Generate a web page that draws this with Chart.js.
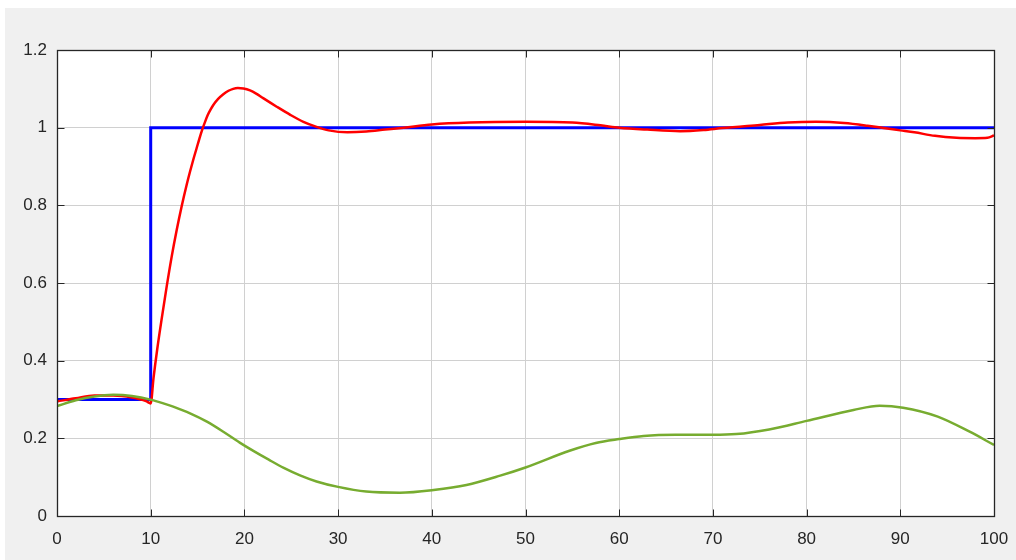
<!DOCTYPE html>
<html>
<head>
<meta charset="utf-8">
<script src="https://cdn.jsdelivr.net/npm/chart.js@4/dist/chart.umd.min.js"></script>
<style>
  html, body { margin: 0; padding: 0; background: #ffffff; }
  #wrap { position: absolute; left: 5px; top: 8px; width: 1011px; height: 552px; }
  canvas { display: block; }
</style>
</head>
<body>
<div id="wrap"><canvas id="c" width="1011" height="552"></canvas></div>
<script>
// Axis ticks
const xTicks = [0, 10, 20, 30, 40, 50, 60, 70, 80, 90, 100];
const yTicks = [0, 0.2, 0.4, 0.6, 0.8, 1, 1.2];
const yTickLabels = ['0', '0.2', '0.4', '0.6', '0.8', '1', '1.2'];

// Setpoint (step from 0.3 to 1 at t = 10)
const refT = [0, 10, 10, 100];
const refY = [0.3, 0.3, 1, 1];

// Process output
const outT = [0, 2, 4, 6, 8, 9.5, 10, 10.3, 10.7, 11.2, 11.7, 12.24, 12.78, 13.3, 13.84, 14.2,
  14.55, 14.9, 15.2, 15.5, 15.8, 16.1, 16.4, 16.7, 17.2, 17.75, 18.3, 18.8, 19.3, 19.9, 20.6,
  21.3, 22, 23.45, 24.9, 26.3, 27.7, 29, 31, 33, 35, 37,
  40, 44, 50, 55, 58, 60, 63, 66.5, 69, 71, 75, 78, 81, 84, 86.5, 88.2, 90, 91.5, 93.7, 96, 98, 99.3, 100];
const outY = [0.295, 0.303, 0.31, 0.31, 0.305, 0.296, 0.29, 0.355, 0.43, 0.512, 0.59, 0.668, 0.737, 0.797, 0.853, 0.887,
  0.918, 0.947, 0.972, 0.995, 1.015, 1.033, 1.047, 1.059, 1.074, 1.086, 1.095, 1.1, 1.102, 1.101, 1.096,
  1.087, 1.076, 1.054, 1.033, 1.015, 1.002, 0.993, 0.988, 0.99, 0.995, 1.0,
  1.008, 1.013, 1.015, 1.013, 1.006, 1.0, 0.995, 0.991, 0.994, 0.999, 1.007, 1.013, 1.015, 1.012, 1.005, 0.999, 0.993, 0.988, 0.979, 0.974, 0.973, 0.974, 0.98];

// Control signal
const ctlT = [0, 2, 4, 6, 8, 10.1, 11.35, 12.4, 14.2, 16, 17.75, 19.5, 21, 22.6, 24.2, 26, 27.7, 30, 33, 36.6,
  40.2, 43.7, 47.3, 50, 54.7, 57.5, 60, 62.6, 66, 70, 72.5, 76, 80, 85, 87.8, 90.3, 94, 97.4, 100];
const ctlY = [0.283, 0.298, 0.308, 0.312, 0.309, 0.299, 0.29, 0.2815, 0.2645, 0.243, 0.217, 0.189, 0.167, 0.145, 0.124, 0.104, 0.089, 0.075, 0.063, 0.06,
  0.067, 0.08, 0.104, 0.125, 0.168, 0.188, 0.198, 0.206, 0.209, 0.209, 0.211, 0.223, 0.245, 0.273, 0.284, 0.279, 0.256, 0.217, 0.183];

const pts = (t, y) => t.map((v, i) => ({ x: v, y: y[i] }));

const AXIS_COLOR = '#262626';
const FONT = { family: '"Liberation Sans", Arial, Helvetica, sans-serif', size: 17 };

// Grey figure background, white axes area
const backdrop = {
  id: 'backdrop',
  beforeDraw(chart) {
    const { ctx, chartArea: a } = chart;
    ctx.save();
    ctx.fillStyle = '#f0f0f0';
    ctx.fillRect(0, 0, chart.width, chart.height);
    ctx.fillStyle = '#ffffff';
    ctx.fillRect(a.left, a.top, a.right - a.left, a.bottom - a.top);
    ctx.restore();
  }
};

// Box frame with inward tick marks on all four sides
const boxFrame = {
  id: 'boxFrame',
  afterDraw(chart) {
    const { ctx, chartArea: a, scales } = chart;
    const L = Math.round(a.left) + 0.5, R = Math.round(a.right) + 0.5;
    const T = Math.round(a.top) + 0.5, B = Math.round(a.bottom) + 0.5;
    const len = 7;
    ctx.save();
    ctx.strokeStyle = AXIS_COLOR;
    ctx.lineWidth = 1;
    ctx.beginPath();
    xTicks.forEach(v => {
      const px = Math.round(scales.x.getPixelForValue(v)) + 0.5;
      ctx.moveTo(px, B); ctx.lineTo(px, B - len);
      ctx.moveTo(px, T); ctx.lineTo(px, T + len);
    });
    yTicks.forEach(v => {
      const py = Math.round(scales.y.getPixelForValue(v)) + 0.5;
      ctx.moveTo(L, py); ctx.lineTo(L + len, py);
      ctx.moveTo(R, py); ctx.lineTo(R - len, py);
    });
    ctx.stroke();
    ctx.lineWidth = 1.3;
    ctx.strokeRect(L, T, R - L, B - T);
    ctx.restore();
  }
};

new Chart(document.getElementById('c'), {
  type: 'line',
  data: {
    datasets: [
      {
        data: pts(ctlT, ctlY), borderColor: '#77ac30', borderWidth: 2.5,
        pointRadius: 0, tension: 0.4, cubicInterpolationMode: 'monotone'
      },
      {
        data: pts(outT, outY), borderColor: '#ff0000', borderWidth: 2.5,
        pointRadius: 0, tension: 0.4, cubicInterpolationMode: 'monotone'
      },
      {
        data: pts(refT, refY), borderColor: '#0000ff', borderWidth: 3,
        pointRadius: 0, tension: 0
      }
    ]
  },
  options: {
    responsive: false,
    animation: false,
    devicePixelRatio: 1,
    layout: { padding: { top: 42, right: 22, left: 0, bottom: 0 } },
    plugins: { legend: { display: false }, tooltip: { enabled: false } },
    scales: {
      x: {
        type: 'linear', min: 0, max: 100,
        afterBuildTicks: s => { s.ticks = xTicks.map(v => ({ value: v })); },
        afterFit: s => { s.height = 44; s.paddingLeft = 0; s.paddingRight = 0; },
        grid: { color: '#d0d0d0', lineWidth: 1, drawTicks: false },
        border: { display: false },
        ticks: { color: AXIS_COLOR, font: FONT, padding: 13, maxRotation: 0, callback: v => String(v) }
      },
      y: {
        type: 'linear', min: 0, max: 1.2,
        afterBuildTicks: s => { s.ticks = yTicks.map(v => ({ value: v })); },
        afterFit: s => { s.width = 52; s.paddingTop = 0; s.paddingBottom = 0; },
        grid: { color: '#d0d0d0', lineWidth: 1, drawTicks: false },
        border: { display: false },
        ticks: {
          color: AXIS_COLOR, font: FONT, padding: 10,
          callback: v => yTickLabels[yTicks.findIndex(t => Math.abs(t - v) < 1e-9)]
        }
      }
    }
  },
  plugins: [backdrop, boxFrame]
});
</script>
</body>
</html>
